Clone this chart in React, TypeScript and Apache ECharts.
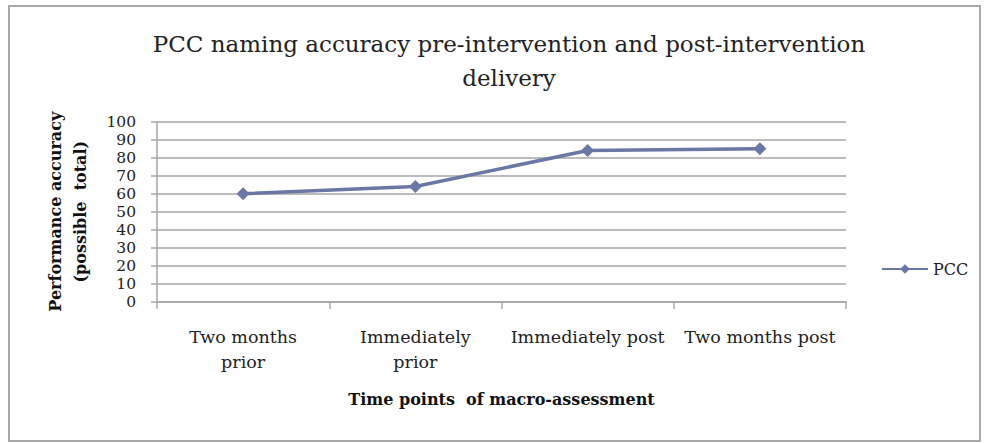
import React, { useEffect, useRef } from "react";
import * as echarts from "echarts";

const categories = ["Two months\nprior", "Immediately\nprior", "Immediately post", "Two months post"];
const pccValues = [60, 64, 84, 85];
const seriesName = "PCC";
const titleText = "PCC naming accuracy pre-intervention and post-intervention\ndelivery";
const xAxisName = "Time points  of macro-assessment";
const yAxisName = "Performance accuracy\n(possible  total)";

const FONT = "DejaVu Serif";
const LINE = "#6b77a5";
const GRID = "#a6a6a6";

export default function App() {
  const ref = useRef<HTMLDivElement>(null);
  useEffect(() => {
    if (!ref.current) return;
    const chart = echarts.init(ref.current, null, { renderer: "svg" });
    chart.setOption({
      animation: false,
      backgroundColor: "#ffffff",
      title: {
        text: titleText,
        left: 504,
        top: 22,
        textAlign: "center",
        textStyle: { fontFamily: FONT, fontSize: 23, fontWeight: "normal", color: "#222", lineHeight: 34 },
      },
      graphic: [
        {
          type: "rect",
          shape: { x: 9, y: 6, width: 971, height: 435 },
          style: { fill: "none", stroke: "#a8a8a8", lineWidth: 2 },
          silent: true,
        },
      ],
      legend: {
        orient: "vertical",
        left: 876,
        top: 256,
        itemWidth: 46,
        itemHeight: 12,
        itemGap: 6,
        data: [seriesName],
        textStyle: { fontFamily: FONT, fontSize: 16, color: "#222" },
      },
      grid: { left: 157, right: 141, top: 121.7, bottom: 141.3, containLabel: false },
      xAxis: {
        type: "category",
        data: categories,
        boundaryGap: true,
        name: xAxisName,
        nameLocation: "middle",
        nameGap: 90,
        nameTextStyle: { fontFamily: FONT, fontSize: 16, fontWeight: "bold", color: "#111" },
        axisLine: { lineStyle: { color: GRID, width: 1.5 } },
        axisTick: { show: true, length: 7, alignWithLabel: false, lineStyle: { color: GRID, width: 1.5 } },
        axisLabel: {
          fontFamily: FONT,
          fontSize: 17.5,
          color: "#222",
          margin: 23,
          lineHeight: 25,
          interval: 0,
        },
        splitLine: { show: false },
      },
      yAxis: {
        type: "value",
        min: 0,
        max: 100,
        interval: 10,
        name: yAxisName,
        nameLocation: "middle",
        nameRotate: 90,
        nameGap: 64,
        nameTextStyle: { fontFamily: FONT, fontSize: 16, fontWeight: "bold", color: "#111", lineHeight: 25 },
        axisLine: { show: true, lineStyle: { color: GRID, width: 1.5 } },
        axisTick: { show: true, length: 6, lineStyle: { color: GRID, width: 1.5 } },
        axisLabel: { fontFamily: FONT, fontSize: 15.5, color: "#222", margin: 21, lineHeight: 16 },
        splitLine: { show: true, lineStyle: { color: GRID, width: 1.5 } },
      },
      series: [
        {
          name: seriesName,
          type: "line",
          data: pccValues,
          symbol: "diamond",
          symbolSize: 13,
          itemStyle: { color: LINE },
          lineStyle: { color: LINE, width: 3.5 },
        },
      ],
    });
    return () => chart.dispose();
  }, []);
  return (
    <div
      ref={ref}
      style={{ position: "absolute", left: 0, top: 0, width: 987, height: 443 }}
    />
  );
}
